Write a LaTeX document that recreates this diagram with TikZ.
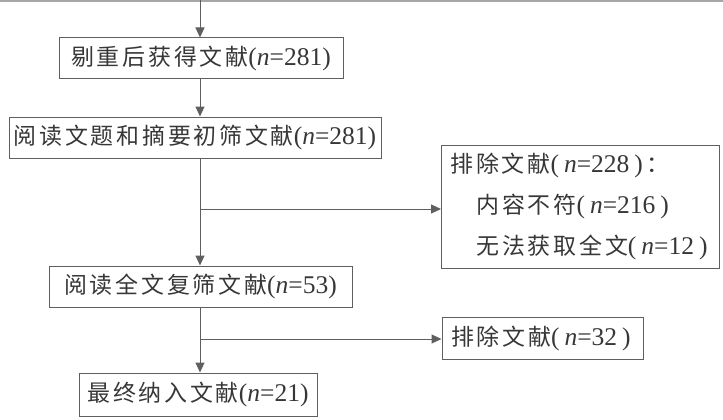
\documentclass[tikz,border=0pt]{standalone}
\usepackage{fontspec}
\setmainfont{Liberation Serif}
\newfontfamily\cjk[Scale=0.9,LetterSpace=12]{Noto Sans CJK SC}
\usetikzlibrary{arrows.meta}
\newcommand\zh[1]{{\cjk #1}}
\newcommand\lp{(\hspace{5pt}}
\newcommand\rp{\hspace{5pt})}
\definecolor{linec}{RGB}{95,95,95}
\definecolor{textc}{RGB}{55,55,55}
\tikzset{
  box/.style={draw=linec, line width=1pt, inner sep=0pt, text=textc, font=\fontsize{25.5}{41}\selectfont},
  conn/.style={draw=linec, line width=1pt, -{Triangle[length=10pt,width=9pt]}, color=linec},
}
\begin{document}
\begin{tikzpicture}[x=1pt,y=-1pt]
\useasboundingbox (0,0) rectangle (723,420);
\draw[line width=2pt, color=black!35] (0,1) -- (723,1);
\node[box, minimum width=284pt, minimum height=41pt] (b1) at (201,58.5) {\zh{剔重后获得文献}(\textit{n}=281)};
\node[box, minimum width=372pt, minimum height=41pt] (b2) at (195,137.5) {\zh{阅读文题和摘要初筛文献}(\textit{n}=281)};
\node[box, minimum width=303pt, minimum height=41pt] (b3) at (200.5,286.5) {\zh{阅读全文复筛文献}(\textit{n}=53)};
\node[box, minimum width=238pt, minimum height=43pt] (b4) at (198,394.5) {\zh{最终纳入文献}(\textit{n}=21)};
\node[box, minimum width=275pt, minimum height=123pt, text width=260pt, inner xsep=9pt, align=left] (e1) at (580.5,206.5)
  {\zh{排除文献}\lp\textit{n}=228\rp\hspace{4pt}\zh{：}\\
   \hspace*{26pt}\zh{内容不符}\lp\textit{n}=216\rp\\
   \hspace*{26pt}\zh{无法获取全文}\lp\textit{n}=12\rp};
\node[box, minimum width=199pt, minimum height=42pt, text width=183pt, inner xsep=9pt, align=left] (e2) at (542.5,338)
  {\zh{排除文献}\lp\textit{n}=32\rp};
\coordinate (top) at (200,0);
\coordinate (s1) at (200,209);
\coordinate (s2) at (200,339);
\draw[conn] (top) -- (top |- b1.north);
\draw[conn] (top |- b1.south) -- (top |- b2.north);
\draw[conn] (top |- b2.south) -- (top |- b3.north);
\draw[conn] (top |- b3.south) -- (top |- b4.north);
\draw[conn] (s1) -- (s1 -| e1.west);
\draw[conn] (s2) -- (s2 -| e2.west);
\end{tikzpicture}
\end{document}
